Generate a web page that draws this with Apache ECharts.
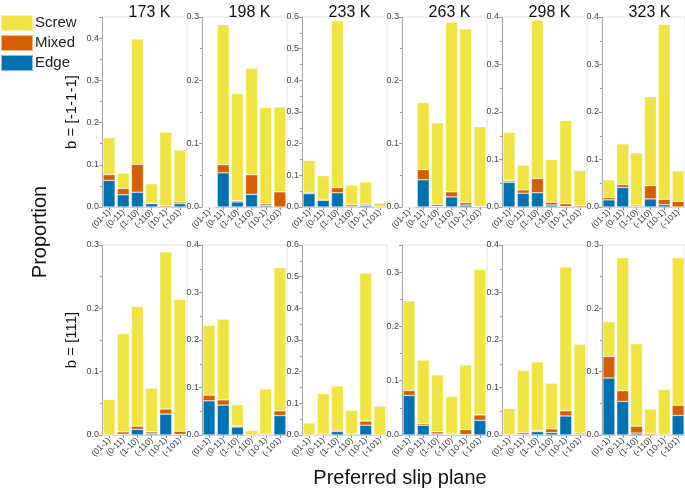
<!DOCTYPE html>
<html>
<head>
<meta charset="utf-8">
<script src="https://cdn.jsdelivr.net/npm/echarts@6/dist/echarts.min.js"></script>
<style>html,body{margin:0;padding:0;background:#fff}#c{width:685px;height:490px}</style>
</head>
<body>
<div id="c"></div>
<script>
// ---- data ----
const categories = ['(01-1)', '(0-11)', '(1-10)', '(-110)', '(10-1)', '(-101)'];
const temperatures = ['173 K', '198 K', '233 K', '263 K', '298 K', '323 K'];
const rowLabels = ['b = [-1-1-1]', 'b = [111]'];
const seriesNames = ['Edge', 'Mixed', 'Screw'];
// y axis maximum of each panel (row 1, row 2)
const yMaxRow1 = [0.45, 0.3, 0.6, 0.3, 0.4, 0.4];
const yMaxRow2 = [0.3, 0.4, 0.6, 0.35, 0.4, 0.3];

// b = [-1-1-1], one inner array per temperature
const edgeRow1 = [
  [0.063, 0.029, 0.035, 0.008, 0.000, 0.008],
  [0.000, 0.054, 0.008, 0.020, 0.002, 0.000],
  [0.042, 0.021, 0.045, 0.001, 0.005, 0.000],
  [0.000, 0.043, 0.001, 0.016, 0.003, 0.001],
  [0.052, 0.029, 0.030, 0.004, 0.001, 0.000],
  [0.015, 0.041, 0.001, 0.017, 0.005, 0.000]
];
const mixedRow1 = [
  [0.014, 0.015, 0.066, 0.001, 0.003, 0.004],
  [0.000, 0.013, 0.002, 0.031, 0.003, 0.024],
  [0.004, 0.003, 0.016, 0.006, 0.004, 0.000],
  [0.000, 0.016, 0.003, 0.008, 0.004, 0.000],
  [0.003, 0.007, 0.030, 0.006, 0.006, 0.003],
  [0.005, 0.006, 0.003, 0.028, 0.011, 0.012]
];
const screwRow1 = [
  [0.087, 0.036, 0.297, 0.046, 0.174, 0.123],
  [0.000, 0.221, 0.169, 0.168, 0.152, 0.134],
  [0.101, 0.075, 0.528, 0.062, 0.070, 0.013],
  [0.000, 0.106, 0.129, 0.268, 0.274, 0.126],
  [0.102, 0.052, 0.334, 0.090, 0.175, 0.074],
  [0.037, 0.086, 0.110, 0.187, 0.369, 0.064]
];
// b = [111]
const edgeRow2 = [
  [0.000, 0.001, 0.009, 0.002, 0.033, 0.001],
  [0.072, 0.063, 0.017, 0.000, 0.000, 0.041],
  [0.000, 0.000, 0.011, 0.001, 0.031, 0.000],
  [0.073, 0.018, 0.002, 0.001, 0.001, 0.027],
  [0.000, 0.001, 0.007, 0.005, 0.040, 0.001],
  [0.090, 0.053, 0.003, 0.000, 0.000, 0.031]
];
const mixedRow2 = [
  [0.000, 0.004, 0.005, 0.003, 0.008, 0.005],
  [0.012, 0.011, 0.002, 0.000, 0.002, 0.010],
  [0.000, 0.003, 0.004, 0.003, 0.013, 0.000],
  [0.009, 0.003, 0.004, 0.002, 0.009, 0.010],
  [0.001, 0.004, 0.002, 0.008, 0.011, 0.003],
  [0.034, 0.017, 0.011, 0.002, 0.000, 0.016]
];
const screwRow2 = [
  [0.056, 0.155, 0.189, 0.069, 0.248, 0.208],
  [0.147, 0.170, 0.045, 0.010, 0.095, 0.301],
  [0.038, 0.128, 0.140, 0.074, 0.467, 0.091],
  [0.165, 0.117, 0.105, 0.068, 0.119, 0.268],
  [0.055, 0.131, 0.145, 0.096, 0.303, 0.187],
  [0.055, 0.210, 0.130, 0.039, 0.072, 0.233]
];

// ---- layout / styles ----
const FONT = 'Liberation Sans, Arial, sans-serif';
const colors = { Edge: '#0072B2', Mixed: '#D55E00', Screw: '#F0E442' };
const panelLeft0 = 102, panelStep = 100, panelWidth = 85;
const rowTops = [17, 245], panelHeight = 190;

const rows = [
  { max: yMaxRow1, data: { Edge: edgeRow1, Mixed: mixedRow1, Screw: screwRow1 } },
  { max: yMaxRow2, data: { Edge: edgeRow2, Mixed: mixedRow2, Screw: screwRow2 } }
];

const grid = [], xAxis = [], yAxis = [], series = [], title = [];
let gi = 0;
rows.forEach((row, r) => {
  temperatures.forEach((t, c) => {
    const left = panelLeft0 + c * panelStep;
    grid.push({ left: left, top: rowTops[r], width: panelWidth, height: panelHeight,
      show: true, borderColor: '#e4e4e4', borderWidth: 1, backgroundColor: '#fff' });
    xAxis.push({ type: 'category', gridIndex: gi, data: categories,
      axisLine: { show: true, lineStyle: { color: '#d0d0d0' } },
      axisTick: { show: true, alignWithLabel: true, length: 3, lineStyle: { color: '#999' } },
      axisLabel: { rotate: 45, fontSize: 8.5, color: '#333', margin: 4, interval: 0, fontFamily: FONT } });
    yAxis.push({ type: 'value', gridIndex: gi, min: 0, max: row.max[c], interval: 0.1,
      axisLine: { show: true, lineStyle: { color: '#aaa' } },
      axisTick: { show: true, length: 3, lineStyle: { color: '#999' } },
      minorTick: { show: true, splitNumber: 2, length: 2, lineStyle: { color: '#999' } },
      splitLine: { show: false },
      axisLabel: { fontSize: 9, color: '#444', margin: 3, fontFamily: FONT, showMaxLabel: row.max[c] * 10 % 1 === 0,
        formatter: v => v.toFixed(1) } });
    seriesNames.forEach(name => {
      series.push({ type: 'bar', name: name, xAxisIndex: gi, yAxisIndex: gi, stack: 'p' + gi,
        barWidth: 12, data: row.data[name][c],
        itemStyle: { color: colors[name], borderColor: 'rgba(255,255,255,0.55)', borderWidth: 0.6 },
        emphasis: { disabled: true } });
    });
    if (r === 0) {
      title.push({ text: t, left: left + panelWidth / 2, top: 0, textAlign: 'center',
        textStyle: { fontSize: 16, fontWeight: 'normal', color: '#111', fontFamily: FONT } });
    }
    gi++;
  });
});

const chart = echarts.init(document.getElementById('c'), null, { renderer: 'canvas' });
chart.setOption({
  animation: false,
  textStyle: { fontFamily: FONT },
  title: title,
  legend: { data: ['Screw', 'Mixed', 'Edge'], orient: 'vertical', left: 0, top: 14, padding: 0,
    itemWidth: 32, itemHeight: 16, itemGap: 2, icon: 'rect',
    textStyle: { fontSize: 15, lineHeight: 16, color: '#222', fontFamily: FONT, padding: [0, 0, 0, -3] } },
  grid: grid, xAxis: xAxis, yAxis: yAxis, series: series,
  graphic: [
    { type: 'text', x: 40, y: 232, rotation: Math.PI / 2,
      style: { text: 'Proportion', fontSize: 20, fill: '#111', fontFamily: FONT, align: 'center', verticalAlign: 'middle' } },
    { type: 'text', x: 72, y: 112, rotation: Math.PI / 2,
      style: { text: rowLabels[0], fontSize: 15, fill: '#111', fontFamily: FONT, align: 'center', verticalAlign: 'middle' } },
    { type: 'text', x: 72, y: 340, rotation: Math.PI / 2,
      style: { text: rowLabels[1], fontSize: 15, fill: '#111', fontFamily: FONT, align: 'center', verticalAlign: 'middle' } },
    { type: 'text', x: 400, y: 478,
      style: { text: 'Preferred slip plane', fontSize: 20, fill: '#111', fontFamily: FONT, align: 'center', verticalAlign: 'middle' } }
  ]
});
</script>
</body>
</html>
